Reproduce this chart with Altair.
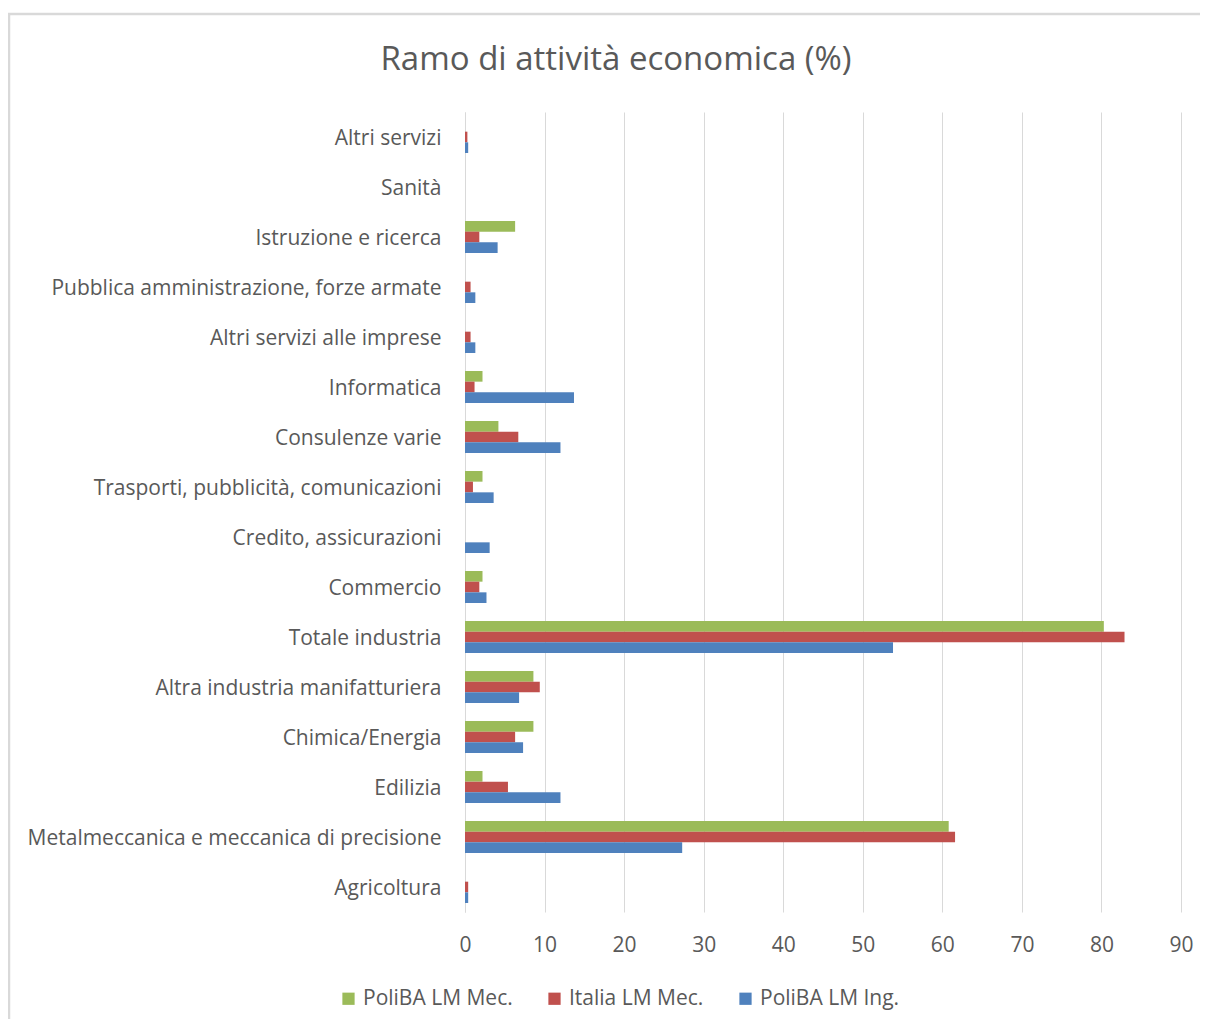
import altair as alt
import pandas as pd

categories = [
    "Agricoltura",
    "Metalmeccanica e meccanica di precisione",
    "Edilizia",
    "Chimica/Energia",
    "Altra industria manifatturiera",
    "Totale industria",
    "Commercio",
    "Credito, assicurazioni",
    "Trasporti, pubblicità, comunicazioni",
    "Consulenze varie",
    "Informatica",
    "Altri servizi alle imprese",
    "Pubblica amministrazione, forze armate",
    "Istruzione e ricerca",
    "Sanità",
    "Altri servizi",
]
series_names = ["PoliBA LM Mec.", "Italia LM Mec.", "PoliBA LM Ing."]
poliba_mec = [0, 60.8, 2.2, 8.6, 8.6, 80.3, 2.2, 0, 2.2, 4.2, 2.2, 0, 0, 6.3, 0, 0]
italia_mec = [0.4, 61.6, 5.4, 6.3, 9.4, 82.9, 1.8, 0, 1.0, 6.7, 1.2, 0.7, 0.7, 1.8, 0, 0.3]
poliba_ing = [0.4, 27.3, 12.0, 7.3, 6.8, 53.8, 2.7, 3.1, 3.6, 12.0, 13.7, 1.3, 1.3, 4.1, 0, 0.4]
x_ticks = [0, 10, 20, 30, 40, 50, 60, 70, 80, 90]
colors = ["#9BBB59", "#C0504D", "#4F81BD"]
title_text = "Ramo di attività economica (%)"

rows = []
for name, vals in zip(series_names, [poliba_mec, italia_mec, poliba_ing]):
    for c, v in zip(categories, vals):
        rows.append({"Ramo": c, "Serie": name, "Valore": v})
df = pd.DataFrame(rows)

FONT = "Open Sans"
GRAY = "#595959"

frame = alt.Chart(alt.Data(values=[{"a": 1}])).mark_rect(
    fillOpacity=0, stroke="#d9d9d9", strokeWidth=2.5
).encode(
    x=alt.value(-456), x2=alt.value(760), y=alt.value(-98), y2=alt.value(940)
)

title = alt.Chart(alt.Data(values=[{"t": title_text}])).mark_text(
    font=FONT, fontSize=33, color=GRAY, align="center", baseline="middle"
).encode(
    text="t:N", x=alt.value(151), y=alt.value(-52)
)

bars = alt.Chart(df).mark_bar().encode(
    y=alt.Y(
        "Ramo:N",
        sort=list(reversed(categories)),
        scale=alt.Scale(paddingInner=0.36, paddingOuter=0.18),
        axis=alt.Axis(
            title=None, labelFont=FONT, labelFontSize=21, labelColor=GRAY,
            labelPadding=24, labelOffset=2, ticks=False, domain=True,
            domainColor="#d9d9d9", labelLimit=600,
        ),
    ),
    yOffset=alt.YOffset("Serie:N", sort=series_names),
    x=alt.X(
        "Valore:Q",
        scale=alt.Scale(domain=[0, 90], nice=False),
        axis=alt.Axis(
            title=None, values=x_ticks, labelFont=FONT, labelFontSize=21,
            labelColor=GRAY, labelPadding=22, labelFlush=False, ticks=False,
            domain=False, grid=True, gridColor="#d9d9d9", gridWidth=1,
        ),
    ),
    color=alt.Color(
        "Serie:N",
        sort=series_names,
        scale=alt.Scale(domain=series_names, range=colors),
        legend=alt.Legend(
            title=None, orient="none", direction="horizontal",
            legendX=-127, legendY=876, symbolType="square", symbolSize=150,
            symbolStrokeWidth=0, labelFont=FONT, labelFontSize=21,
            labelColor=GRAY, columnPadding=31, labelOffset=4,
        ),
    ),
)

chart = alt.layer(frame, title, bars).properties(
    width=716,
    height=800,
    autosize=alt.AutoSizeParams(type="none"),
    padding={"left": 457, "top": 104, "right": 19, "bottom": 107},
).configure_view(stroke=None)

chart.save("out.html", embed_options={"renderer": "svg", "actions": False})
